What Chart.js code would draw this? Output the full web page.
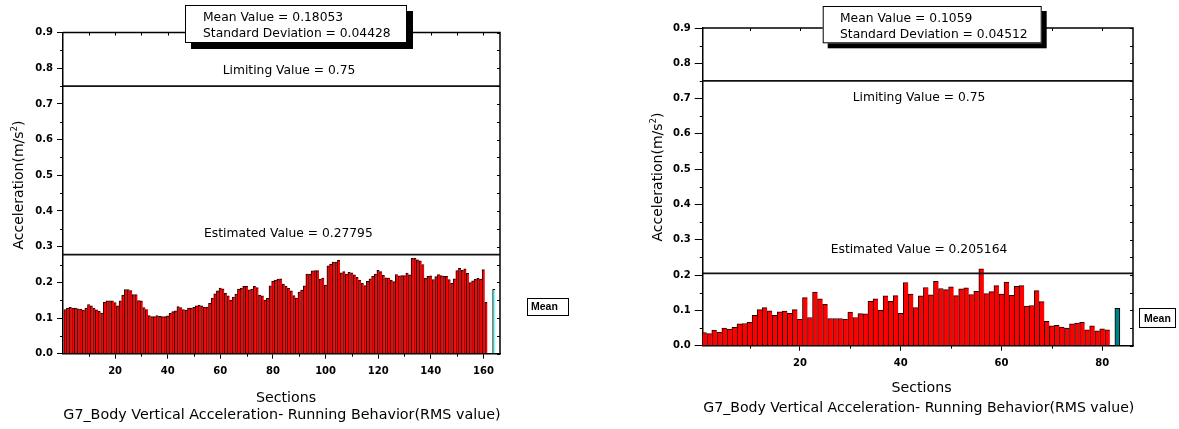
<!DOCTYPE html>
<html>
<head>
<meta charset="utf-8">
<script src="https://cdn.jsdelivr.net/npm/chart.js@4.4.1/dist/chart.umd.min.js"></script>
<style>
  body { margin: 0; background: #fff; }
  #wrap { position: relative; width: 1179px; height: 429px; }
  canvas { position: absolute; top: 0; }
  #left-chart { left: 0; }
  #right-chart { left: 590px; }
</style>
</head>
<body>
<div id="wrap">
  <canvas id="left-chart" width="590" height="429"></canvas>
  <canvas id="right-chart" width="589" height="429"></canvas>
</div>
<script>
// RMS value per section
const leftValues = [
  0.124, 0.128, 0.130, 0.128, 0.128, 0.126, 0.125, 0.122, 0.128, 0.138,
  0.134, 0.127, 0.123, 0.119, 0.114, 0.144, 0.148, 0.148, 0.148, 0.143,
  0.134, 0.148, 0.164, 0.180, 0.180, 0.177, 0.166, 0.166, 0.149, 0.148,
  0.129, 0.124, 0.107, 0.104, 0.104, 0.107, 0.105, 0.104, 0.104, 0.106,
  0.113, 0.118, 0.120, 0.132, 0.129, 0.124, 0.122, 0.128, 0.128, 0.130,
  0.134, 0.136, 0.134, 0.130, 0.131, 0.141, 0.156, 0.168, 0.176, 0.184,
  0.182, 0.169, 0.162, 0.150, 0.159, 0.167, 0.181, 0.184, 0.189, 0.189,
  0.179, 0.181, 0.189, 0.185, 0.164, 0.162, 0.150, 0.155, 0.190, 0.203,
  0.206, 0.209, 0.210, 0.195, 0.189, 0.183, 0.176, 0.163, 0.156, 0.173,
  0.178, 0.190, 0.223, 0.223, 0.232, 0.233, 0.233, 0.209, 0.212, 0.192,
  0.246, 0.251, 0.257, 0.257, 0.262, 0.227, 0.230, 0.223, 0.228, 0.227,
  0.221, 0.214, 0.206, 0.197, 0.191, 0.203, 0.210, 0.217, 0.223, 0.234,
  0.230, 0.220, 0.213, 0.212, 0.206, 0.202, 0.222, 0.218, 0.219, 0.219,
  0.226, 0.221, 0.267, 0.267, 0.263, 0.260, 0.250, 0.211, 0.217, 0.218,
  0.208, 0.216, 0.222, 0.219, 0.217, 0.217, 0.208, 0.197, 0.210, 0.233,
  0.239, 0.234, 0.238, 0.225, 0.199, 0.204, 0.209, 0.211, 0.209, 0.236,
  0.144
];
const leftMean = 0.18053;
const leftStd = 0.04428;
const leftLimit = 0.75;
const leftEstimated = 0.27795;
const leftXTicks = [20, 40, 60, 80, 100, 120, 140, 160];

const rightValues = [
  0.037, 0.034, 0.044, 0.038, 0.050, 0.047, 0.052, 0.062, 0.063, 0.066,
  0.086, 0.102, 0.108, 0.099, 0.086, 0.096, 0.098, 0.092, 0.102, 0.075,
  0.136, 0.080, 0.152, 0.133, 0.117, 0.077, 0.077, 0.077, 0.075, 0.095,
  0.080, 0.091, 0.090, 0.126, 0.133, 0.100, 0.141, 0.126, 0.142, 0.092,
  0.179, 0.146, 0.108, 0.141, 0.165, 0.144, 0.182, 0.162, 0.159, 0.167,
  0.142, 0.161, 0.164, 0.145, 0.154, 0.218, 0.148, 0.153, 0.170, 0.146,
  0.180, 0.143, 0.168, 0.170, 0.112, 0.114, 0.156, 0.125, 0.069, 0.056,
  0.058, 0.053, 0.050, 0.062, 0.064, 0.066, 0.045, 0.056, 0.042, 0.048,
  0.045
];
const rightMean = 0.1059;
const rightStd = 0.04512;
const rightLimit = 0.75;
const rightEstimated = 0.205164;
const rightXTicks = [20, 40, 60, 80];

const yTicks = [0, 0.1, 0.2, 0.3, 0.4, 0.5, 0.6, 0.7, 0.8, 0.9];
const xTitle = "Sections";
const subTitle = "G7_Body Vertical Acceleration- Running Behavior(RMS value)";
const meanLabel = "Mean";

const FONT = '"DejaVu Sans", sans-serif';

const leftLayout = {
  canvasW: 590, area: { left: 63, right: 500, top: 32.6, bottom: 353.7 },
  xMin: 0.2, xMax: 166.3, meanX: 164, meanColor: "#80ffff", meanBorder: 0, yTickLen: 6,
  box: { x: 185, y: 5, w: 222, h: 38, shadow: 6, tx: 203, ty: [20.7, 37.3] },
  limitText: { x: 222.7, y: 74 }, estText: { x: 204, y: 237 },
  yTitle: { x: 23.3, y: 185 }, xTitle: { x: 286, y: 402 },
  sub: { x: 63.3, y: 419, size: 14.3 },
  legend: { x: 527, y: 298, w: 41, h: 17, tx: 531, ty: 310 },
};
const rightLayout = {
  canvasW: 589, area: { left: 112.7, right: 543, top: 28, bottom: 345.7 },
  xMin: 0.7, xMax: 86.1, meanX: 83, meanColor: "#008080", meanBorder: 1, yTickLen: 8,
  box: { x: 232.7, y: 6, w: 219, h: 37.3, shadow: 5, tx: 250, ty: [21.5, 38] },
  limitText: { x: 262.7, y: 101 }, estText: { x: 240.7, y: 252.7 },
  yTitle: { x: 71.5, y: 177 }, xTitle: { x: 331.5, y: 392.3 },
  sub: { x: 113.3, y: 411.5, size: 14.1 },
  legend: { x: 549.3, y: 308.3, w: 35.7, h: 19, tx: 554, ty: 321.5 },
};

function drawYTitle(ctx, t) {
  const size = 14;
  const big = `${size}px ${FONT}`;
  const small = `${size * 0.62}px ${FONT}`;
  ctx.save();
  ctx.translate(t.x, t.y);
  ctx.rotate(-Math.PI / 2);
  ctx.font = big;
  const w1 = ctx.measureText("Acceleration(m/s").width;
  const w3 = ctx.measureText(")").width;
  ctx.font = small;
  const w2 = ctx.measureText("2").width;
  const x0 = -(w1 + w2 + w3) / 2;
  ctx.textAlign = "left";
  ctx.textBaseline = "alphabetic";
  ctx.font = big;
  ctx.fillText("Acceleration(m/s", x0, 0);
  ctx.font = small;
  ctx.fillText("2", x0 + w1, -size * 0.42);
  ctx.font = big;
  ctx.fillText(")", x0 + w1 + w2, 0);
  ctx.restore();
}

const extrasPlugin = {
  id: "extras",
  afterDraw(chart, args, opts) {
    const { ctx, chartArea: a, scales } = chart;
    const x = scales.x, y = scales.y;
    const L = opts.layout;
    ctx.save();

    // top and right frame
    ctx.strokeStyle = "#000";
    ctx.lineWidth = 1.5;
    ctx.beginPath();
    ctx.moveTo(a.left, a.top);
    ctx.lineTo(a.right, a.top);
    ctx.lineTo(a.right, a.bottom);
    ctx.stroke();

    // minor and inner ticks
    ctx.lineWidth = 1;
    ctx.beginPath();
    const xt = opts.xTicks;
    const step = xt[1] - xt[0];
    for (let v = step / 2; v < L.xMax; v += step / 2) {
      const px = Math.round(x.getPixelForValue(v)) + 0.5;
      ctx.moveTo(px, a.top);
      ctx.lineTo(px, a.top + 3);
      if (!xt.includes(v)) {
        ctx.moveTo(px, a.bottom);
        ctx.lineTo(px, a.bottom + 3);
      }
    }
    for (let i = 0; i < yTicks.length - 1; i++) {
      const mid = (yTicks[i] + yTicks[i + 1]) / 2;
      const pm = Math.round(y.getPixelForValue(mid)) + 0.5;
      ctx.moveTo(a.left - 3, pm);
      ctx.lineTo(a.left, pm);
      [yTicks[i], mid, yTicks[i + 1]].forEach((v) => {
        const p = Math.round(y.getPixelForValue(v)) + 0.5;
        ctx.moveTo(a.right - 3, p);
        ctx.lineTo(a.right, p);
      });
    }
    ctx.stroke();

    // texts on the lines
    ctx.fillStyle = "#000";
    ctx.textAlign = "left";
    ctx.textBaseline = "alphabetic";
    ctx.font = `12.3px ${FONT}`;
    ctx.fillText("Limiting Value = " + opts.limit, L.limitText.x, L.limitText.y);
    ctx.fillText("Estimated Value = " + opts.estimated, L.estText.x, L.estText.y);

    // mean / std box with shadow
    const b = L.box;
    ctx.fillStyle = "#000";
    ctx.fillRect(b.x + b.shadow, b.y + b.shadow, b.w, b.h);
    ctx.fillStyle = "#fff";
    ctx.fillRect(b.x, b.y, b.w, b.h);
    ctx.strokeStyle = "#000";
    ctx.strokeRect(b.x + 0.5, b.y + 0.5, b.w - 1, b.h - 1);
    ctx.fillStyle = "#000";
    ctx.font = `12.3px ${FONT}`;
    ctx.fillText("Mean Value = " + opts.mean, b.tx, b.ty[0]);
    ctx.fillText("Standard Deviation = " + opts.std, b.tx, b.ty[1]);

    // axis titles
    drawYTitle(ctx, L.yTitle);
    ctx.textAlign = "center";
    ctx.font = `14.2px ${FONT}`;
    ctx.fillText(xTitle, L.xTitle.x, L.xTitle.y);
    ctx.textAlign = "left";
    ctx.font = `${L.sub.size}px ${FONT}`;
    ctx.fillText(subTitle, L.sub.x, L.sub.y);

    // legend box
    const g = L.legend;
    ctx.fillStyle = "#fff";
    ctx.fillRect(g.x, g.y, g.w, g.h);
    ctx.strokeRect(Math.round(g.x) + 0.5, Math.round(g.y) + 0.5, Math.round(g.w), Math.round(g.h));
    ctx.fillStyle = "#000";
    ctx.font = 'bold 10.5px "Liberation Sans", Arial, sans-serif';
    ctx.fillText(meanLabel, g.tx, g.ty);

    ctx.restore();
  },
};

function makeChart(canvasId, values, mean, std, limit, estimated, xTicks, L) {
  const ctx = document.getElementById(canvasId).getContext("2d");
  const tickFont = { family: FONT, size: 10, weight: "bold" };
  return new Chart(ctx, {
    type: "bar",
    data: {
      datasets: [
        {
          label: "RMS value",
          data: values.map((v, i) => ({ x: i + 1, y: v })),
          backgroundColor: "#ff0000",
          borderColor: "#1a0000",
          borderWidth: { left: 1, top: 1, right: 0, bottom: 0 },
          order: 2,
        },
        {
          label: "Mean",
          data: [{ x: L.meanX, y: mean }],
          backgroundColor: L.meanColor,
          borderColor: "#000",
          borderWidth: { left: 1, top: 1, right: L.meanBorder, bottom: 0 },
          order: 2,
        },
        {
          type: "line",
          label: "Limiting Value",
          data: [{ x: L.xMin, y: limit }, { x: L.xMax, y: limit }],
          borderColor: "#111",
          borderWidth: 1.8,
          pointRadius: 0,
          order: 0,
        },
        {
          type: "line",
          label: "Estimated Value",
          data: [{ x: L.xMin, y: estimated }, { x: L.xMax, y: estimated }],
          borderColor: "#111",
          borderWidth: 1.8,
          pointRadius: 0,
          order: 0,
        },
      ],
    },
    options: {
      responsive: false,
      animation: false,
      devicePixelRatio: 1,
      datasets: { bar: { barPercentage: 1, categoryPercentage: 1, grouped: false } },
      layout: {
        padding: { left: 0, top: L.area.top, right: L.canvasW - L.area.right, bottom: 0 },
      },
      plugins: {
        legend: { display: false },
        tooltip: { enabled: false },
        extras: { layout: L, mean, std, limit, estimated, xTicks },
      },
      scales: {
        x: {
          type: "linear",
          min: L.xMin,
          max: L.xMax,
          offset: false,
          z: 1,
          grid: { drawOnChartArea: false, tickLength: 5, color: "#000", offset: false },
          border: { color: "#000", width: 1.5 },
          afterBuildTicks: (s) => { s.ticks = xTicks.map((v) => ({ value: v })); },
          afterFit: (s) => { s.height = 429 - L.area.bottom; },
          ticks: { font: tickFont, color: "#000", padding: 7, maxRotation: 0, autoSkip: false },
        },
        y: {
          min: 0,
          max: 0.9,
          z: 1,
          grid: { drawOnChartArea: false, tickLength: L.yTickLen, color: "#000" },
          border: { color: "#000", width: 1.5 },
          afterBuildTicks: (s) => { s.ticks = yTicks.map((v) => ({ value: v })); },
          afterFit: (s) => { s.width = L.area.left; },
          ticks: { font: tickFont, color: "#000", padding: 4, callback: (v) => v.toFixed(1) },
        },
      },
    },
    plugins: [extrasPlugin],
  });
}

makeChart("left-chart", leftValues, leftMean, leftStd, leftLimit, leftEstimated, leftXTicks, leftLayout);
makeChart("right-chart", rightValues, rightMean, rightStd, rightLimit, rightEstimated, rightXTicks, rightLayout);
</script>
</body>
</html>
